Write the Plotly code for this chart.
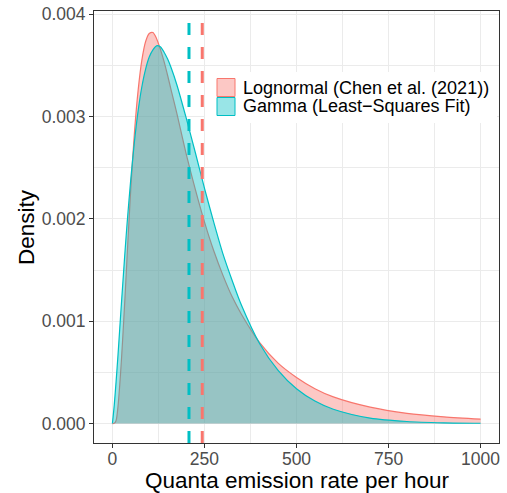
import plotly.graph_objects as go

# Quanta emission rate grid (per hour) and the two fitted densities
rate = [0, 5, 10, 15, 20, 25, 30, 35, 40, 45, 50, 60, 70, 80, 90, 100, 110, 120,
        130, 140, 150, 160, 175, 200, 225, 250, 275, 300, 325, 350, 400, 450,
        500, 550, 600, 700, 800, 900, 1000]

lognormal_density = [0, 0.000002, 0.00003, 0.00016, 0.00038, 0.00065, 0.00096,
                     0.00129, 0.00164, 0.00198, 0.00230, 0.00285, 0.00326,
                     0.00355, 0.00373, 0.00381, 0.00382, 0.00376, 0.00366,
                     0.00354, 0.00340, 0.00325, 0.00303, 0.00264, 0.00229,
                     0.00197, 0.00169, 0.00145, 0.00124, 0.00107, 0.00079,
                     0.00059, 0.00045, 0.00034, 0.00026, 0.00016, 0.00010,
                     0.000066, 0.000044]

gamma_density = [0, 0.00018, 0.00041, 0.00066, 0.00093, 0.00120, 0.00146,
                 0.00172, 0.00196, 0.00218, 0.00239, 0.00276, 0.00306,
                 0.00329, 0.00346, 0.00358, 0.00365, 0.00369, 0.00368,
                 0.00363, 0.00356, 0.00347, 0.00331, 0.00299, 0.00265,
                 0.00230, 0.00197, 0.00166, 0.00140, 0.00116, 0.00078,
                 0.00052, 0.00034, 0.00022, 0.00014, 0.000053, 0.000020,
                 0.0000074, 0.0000027]

# Means of each distribution (dashed reference lines)
mean_lognormal = 244
mean_gamma = 208

series_names = ["Lognormal (Chen et al. (2021))", "Gamma (Least\u2212Squares Fit)"]
series_colors = ["#F8766D", "#00BFC4"]
series_fills = ["rgba(248,118,109,0.4)", "rgba(0,191,196,0.4)"]

x_ticks = [0, 250, 500, 750, 1000]
y_ticks = [0.000, 0.001, 0.002, 0.003, 0.004]
x_title = "Quanta emission rate per hour"
y_title = "Density"

FONT = "Liberation Sans, Arial, Helvetica, sans-serif"

fig = go.Figure()
for dens, name, col, fc in zip([lognormal_density, gamma_density],
                               series_names, series_colors, series_fills):
    fig.add_trace(go.Scatter(
        x=rate, y=dens, name=name, mode="lines",
        line=dict(color=col, width=1.2, shape="spline", smoothing=0.8),
        fill="tozeroy", fillcolor=fc, showlegend=False,
        hoverinfo="skip",
    ))

# Plot area in pixels (used to place the legend and axis titles)
L, R, T, B = 94, 8, 11, 50
W, H = 507, 493
pw, ph = W - L - R, H - T - B


def px_x(p):
    return (p - L) / pw


def px_y(p):
    return (H - B - p) / ph


shapes = []
for m, col in zip([mean_lognormal, mean_gamma], series_colors):
    shapes.append(dict(type="line", xref="x", yref="y domain",
                       x0=m, x1=m, y0=0, y1=1,
                       line=dict(color=col, width=3, dash="12px,12px"),
                       layer="above"))

# Legend background and keys
shapes.append(dict(type="rect", xref="paper", yref="paper",
                   x0=px_x(205), x1=px_x(497), y0=px_y(123), y1=px_y(72),
                   fillcolor="white", line=dict(width=0), layer="above"))
annotations = []
key_tops = [78.5, 97.5]
for top, name, col, fc in zip(key_tops, series_names, series_colors, series_fills):
    shapes.append(dict(type="rect", xref="paper", yref="paper",
                       x0=px_x(217), x1=px_x(235),
                       y0=px_y(top + 18), y1=px_y(top),
                       fillcolor=fc, line=dict(color=col, width=1),
                       layer="above"))
    annotations.append(dict(xref="paper", yref="paper",
                            x=px_x(241), y=px_y(top + 9),
                            xanchor="left", yanchor="middle",
                            text=name, showarrow=False,
                            font=dict(family=FONT, size=18, color="black")))

# Axis titles
annotations.append(dict(xref="paper", yref="paper",
                        x=px_x((L + W - R) / 2), y=px_y(480),
                        xanchor="center", yanchor="middle",
                        text=x_title, showarrow=False,
                        font=dict(family=FONT, size=22.5, color="black")))
annotations.append(dict(xref="paper", yref="paper",
                        x=px_x(26), y=px_y((T + H - B) / 2),
                        xanchor="center", yanchor="middle", textangle=-90,
                        text=y_title, showarrow=False,
                        font=dict(family=FONT, size=22.5, color="black")))

fig.update_layout(
    width=W, height=H,
    margin=dict(l=L, r=R, t=T, b=B, autoexpand=False),
    paper_bgcolor="white", plot_bgcolor="white",
    font=dict(family=FONT),
    shapes=shapes, annotations=annotations,
    showlegend=False,
)

axis_common = dict(
    showline=True, mirror=True, linecolor="#333333", linewidth=1,
    ticks="outside", ticklen=4, tickwidth=1, tickcolor="#333333",
    showgrid=True, gridcolor="#EBEBEB", gridwidth=1, zeroline=False,
    tickfont=dict(family=FONT, size=17.5, color="#4D4D4D"),
    automargin=False,
)

fig.update_xaxes(
    range=[-50, 1050], tickvals=x_ticks, ticktext=[str(v) for v in x_ticks],
    minor=dict(dtick=125, tick0=0, showgrid=True, gridcolor="#EBEBEB",
               gridwidth=0.6, ticks=""),
    ticklabelstandoff=-4,
    **axis_common,
)
fig.update_yaxes(
    range=[-0.00019, 0.00403], tickvals=y_ticks,
    ticktext=[f"{v:.3f}" for v in y_ticks],
    minor=dict(dtick=0.0005, tick0=0, showgrid=True, gridcolor="#EBEBEB",
               gridwidth=0.6, ticks=""),
    **axis_common,
)

fig.write_html("out.html")
